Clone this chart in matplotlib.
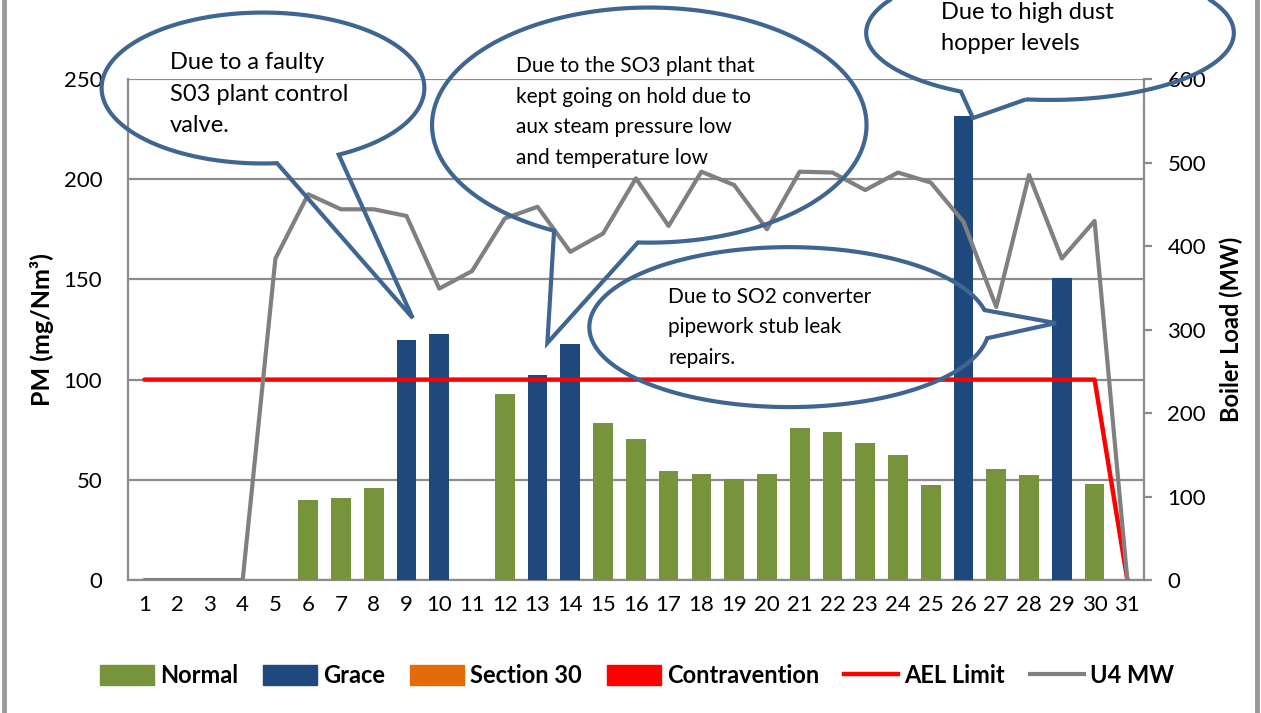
import numpy as np
import matplotlib
matplotlib.use("Agg")
import matplotlib.pyplot as plt
from matplotlib.patches import Polygon, Patch
from matplotlib.lines import Line2D

plt.rcParams['font.family'] = ['Lato', 'DejaVu Sans']

days = list(range(1, 32))
normal_days = [6, 7, 8, 12, 15, 16, 17, 18, 19, 20, 21, 22, 23, 24, 25, 27, 28, 30]
normal_pm = [40, 41, 46, 93, 78.5, 70.5, 54.5, 53, 50.5, 53, 75.7, 74, 68.5, 62.3, 47.5, 55.6, 52.5, 47.8]
grace_days = [9, 10, 13, 14, 26, 29]
grace_pm = [120, 123, 102.3, 118, 231.5, 150.5]
ael_limit = [100] * 30 + [0]
u4_mw = [0, 0, 0, 0, 385, 462, 444, 444, 436, 349, 370, 433, 447, 393, 415, 481, 424,
         489, 473, 420, 489, 488, 467, 488, 476, 429, 327, 485, 385, 430, 0]

# callouts: ellipse centre / size in (day, PM), tail gap angles, tip, text
callouts = [
    dict(c=(4.62, 245.5), w=9.85, h=75.3, a=(275, 298), tip=(9.19, 130.7),
         text="Due to a faulty\nS03 plant control\nvalve.", at=(1.78, 242.5), fs=17, ls=1.62),
    dict(c=(16.41, 227.0), w=13.26, h=117.3, a=(244, 267), tip=(13.3, 118.3),
         text="Due to the SO3 plant that\nkept going on hold due to\naux steam pressure low\nand temperature low",
         at=(12.33, 233.5), fs=15, ls=1.65),
    dict(c=(28.64, 273.0), w=11.22, h=66.9, a=(241, 262.5), tip=(26.29, 230.5),
         text="Due to high dust\nhopper levels", at=(25.32, 275.5), fs=17, ls=1.62),
    dict(c=(20.68, 126.2), w=12.2, h=79.8, a=(-8, 12.3), tip=(28.82, 128.2),
         text="Due to SO2 converter\npipework stub leak\nrepairs.", at=(16.99, 126.2), fs=15, ls=1.65),
]

green = '#77933C'
blue = '#1F497D'
orange = '#E36C09'
red = '#FF0000'
grey = '#808080'
gridc = '#8C8C8C'
cblue = '#3F6592'

fig = plt.figure(figsize=(12.61, 7.13), dpi=100)
ax = fig.add_axes([0.1015, 0.1865, 0.8055, 0.7027])
ax2 = ax.twinx()

ax.bar(normal_days, normal_pm, width=0.6, color=green, zorder=3)
ax.bar(grace_days, grace_pm, width=0.6, color=blue, zorder=3)
ax.plot(days, ael_limit, color=red, lw=3.2, zorder=4, solid_capstyle='round')
ax2.plot(days, u4_mw, color=grey, lw=3.0, zorder=5, solid_capstyle='round')

ax.set_xlim(0.5, 31.5)
ax.set_ylim(0, 250)
ax2.set_ylim(0, 600)
ax.set_yticks([0, 50, 100, 150, 200, 250])
ax2.set_yticks([0, 100, 200, 300, 400, 500, 600])
ax.set_xticks(days)
ax.grid(axis='y', color=gridc, lw=1.6, zorder=0)
ax.set_axisbelow(True)

for a in (ax, ax2):
    for s in a.spines.values():
        s.set_visible(False)
ax.spines['left'].set_visible(True)
ax.spines['bottom'].set_visible(True)
ax2.spines['right'].set_visible(True)
for s in (ax.spines['left'], ax.spines['bottom'], ax2.spines['right']):
    s.set_color(gridc)
    s.set_linewidth(1.6)

ax.tick_params(axis='y', length=0, pad=18.5, labelsize=16)
ax.tick_params(axis='x', length=0, pad=11, labelsize=16)
ax2.tick_params(axis='y', length=6, width=1.6, color=gridc, direction='out', pad=11, labelsize=16)

ax.set_ylabel('PM (mg/Nm³)', fontsize=18, fontweight='bold', labelpad=7)
ax2.set_ylabel('Boiler Load (MW)', fontsize=17, fontweight='bold', labelpad=10)

for co in callouts:
    cx, cy = co['c']
    a0, a1 = co['a']
    t = np.radians(np.linspace(a1, a0 + 360, 300))
    xs = cx + co['w'] / 2 * np.cos(t)
    ys = cy + co['h'] / 2 * np.sin(t)
    verts = list(zip(xs, ys)) + [co['tip']]
    poly = Polygon(verts, closed=True, fill=False, ec=cblue, lw=3.0,
                   transform=ax.transData, clip_on=False, zorder=6, joinstyle='miter')
    ax2.add_patch(poly)
    ax2.text(co['at'][0], co['at'][1], co['text'], transform=ax.transData,
             fontsize=co['fs'], linespacing=co['ls'], ha='left', va='center',
             color='black', zorder=7, clip_on=False)

ax2.set_ylim(0, 600)

handles = [Patch(color=green), Patch(color=blue), Patch(color=orange), Patch(color=red),
           Line2D([], [], color=red, lw=3.2), Line2D([], [], color=grey, lw=3.0)]
labels = ['Normal', 'Grace', 'Section 30', 'Contravention', 'AEL Limit', 'U4 MW']
fig.legend(handles, labels, loc='center', bbox_to_anchor=(0.505, 0.052), ncol=6,
           frameon=False, prop={'weight': 'bold', 'size': 17},
           handlelength=2.3, handleheight=0.9, handletextpad=0.25, columnspacing=1.05)

fig.add_artist(Line2D([0.0032, 0.0032], [0, 1], color='#999999', lw=3.5, transform=fig.transFigure))
fig.add_artist(Line2D([0.9968, 0.9968], [0, 1], color='#999999', lw=3.5, transform=fig.transFigure))

fig.savefig('out.png', dpi=100, facecolor='white')
